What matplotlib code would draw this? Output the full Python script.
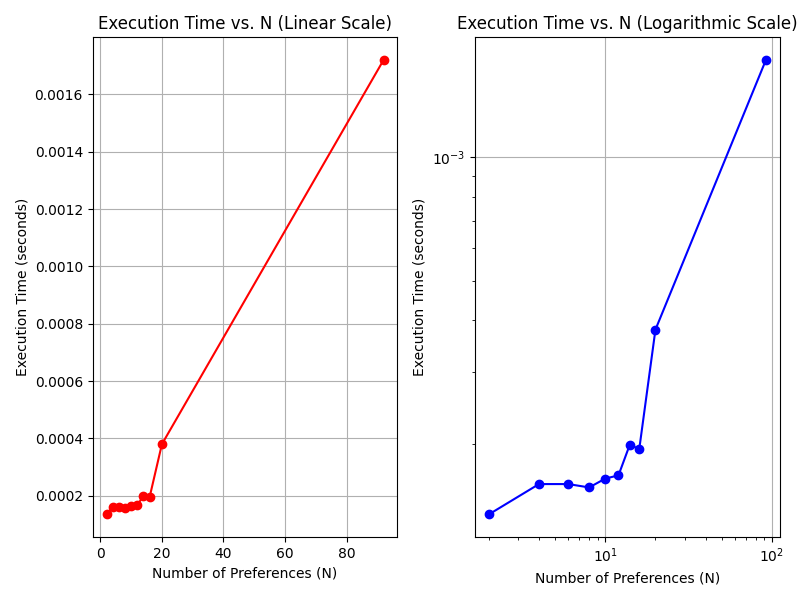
import matplotlib
matplotlib.use("Agg")
import matplotlib.pyplot as plt

# number of preferences and measured execution times
n_values = [2, 4, 6, 8, 10, 12, 14, 16, 20, 92]
exec_times = [1.35e-4, 1.60e-4, 1.60e-4, 1.57e-4, 1.65e-4, 1.68e-4,
              1.99e-4, 1.95e-4, 3.80e-4, 1.72e-3]

fig = plt.figure(figsize=(8, 6))

plt.subplot(1, 2, 1)
plt.plot(n_values, exec_times, marker='o', color='red')
plt.xlabel("Number of Preferences (N)")
plt.ylabel("Execution Time (seconds)")
plt.title("Execution Time vs. N (Linear Scale)")
plt.grid(True)

plt.subplot(1, 2, 2)
plt.plot(n_values, exec_times, marker='o', color='blue')
plt.xscale('log')
plt.yscale('log')
plt.xlabel("Number of Preferences (N)")
plt.ylabel("Execution Time (seconds)")
plt.title("Execution Time vs. N (Logarithmic Scale)")
plt.grid(True)

plt.tight_layout()
plt.savefig("out.png", dpi=100)
